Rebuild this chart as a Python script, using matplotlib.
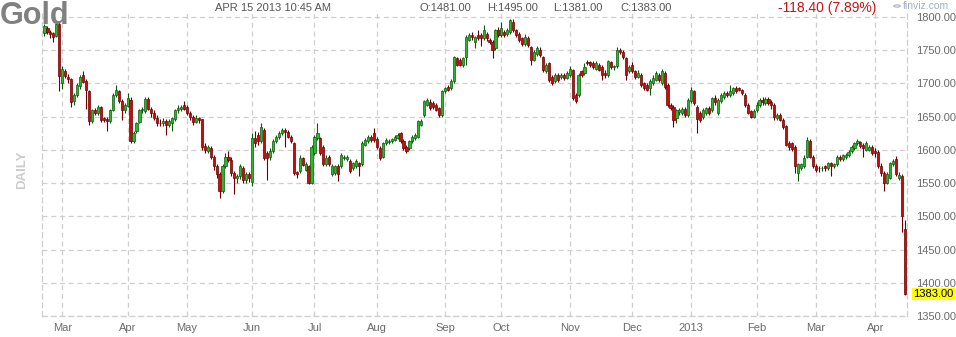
import matplotlib
matplotlib.use('Agg')
import matplotlib.pyplot as plt
import numpy as np
import pandas as pd

plt.rcParams['font.family'] = ['Liberation Sans', 'DejaVu Sans']

# ---------------- data ----------------
holidays = ['2012-04-06', '2012-05-28', '2012-07-04', '2012-09-03', '2012-11-22',
            '2012-12-25', '2013-01-01', '2013-03-29']
dates = pd.bdate_range('2012-02-22', '2013-04-15')
dates = dates[~dates.isin(pd.to_datetime(holidays))]

ohlc_rows = [
    # Feb 2012
    (1776, 1789, 1772, 1786), (1783, 1786, 1775, 1777), (1778, 1781, 1768, 1774), (1776, 1778, 1762, 1770),
    (1772, 1794, 1770, 1790), (1790, 1792, 1688, 1711),
    # Mar 2012
    (1700, 1726, 1692, 1722), (1718, 1722, 1708, 1711), (1710, 1714, 1700, 1706), (1706, 1708, 1665, 1672),
    (1673, 1686, 1668, 1683), (1683, 1700, 1680, 1698), (1696, 1712, 1692, 1710), (1712, 1718, 1700, 1702),
    (1703, 1706, 1662, 1690), (1688, 1690, 1638, 1643), (1643, 1662, 1640, 1660), (1660, 1663, 1652, 1655),
    (1655, 1668, 1652, 1665), (1664, 1666, 1642, 1645), (1648, 1650, 1642, 1645), (1647, 1650, 1628, 1643),
    (1643, 1662, 1640, 1660), (1660, 1685, 1658, 1683), (1682, 1697, 1680, 1690), (1688, 1690, 1670, 1673),
    (1673, 1676, 1645, 1660), (1660, 1670, 1656, 1668),
    # Apr 2012
    (1666, 1685, 1664, 1678), (1675, 1680, 1610, 1613), (1613, 1628, 1610, 1625), (1628, 1642, 1625, 1640),
    (1642, 1662, 1640, 1660), (1660, 1665, 1655, 1662), (1658, 1680, 1655, 1677), (1677, 1680, 1660, 1662),
    (1662, 1665, 1650, 1655), (1656, 1660, 1645, 1648), (1648, 1652, 1636, 1640), (1641, 1646, 1636, 1640),
    (1640, 1648, 1636, 1643), (1643, 1646, 1622, 1638), (1638, 1646, 1634, 1643), (1640, 1650, 1628, 1648),
    (1646, 1662, 1644, 1660), (1660, 1667, 1656, 1663), (1662, 1668, 1658, 1665), (1667, 1673, 1660, 1662),
    # May 2012
    (1664, 1667, 1652, 1655), (1655, 1658, 1645, 1650), (1650, 1652, 1638, 1642), (1642, 1652, 1640, 1648),
    (1648, 1650, 1640, 1645), (1646, 1647, 1600, 1604), (1606, 1610, 1595, 1600), (1598, 1608, 1595, 1605),
    (1603, 1606, 1586, 1590), (1590, 1592, 1570, 1575), (1575, 1578, 1558, 1563), (1563, 1566, 1528, 1538),
    (1538, 1578, 1535, 1575), (1575, 1595, 1572, 1590), (1590, 1598, 1582, 1585), (1585, 1590, 1560, 1565),
    (1565, 1568, 1533, 1558), (1558, 1563, 1550, 1560), (1560, 1578, 1556, 1575), (1573, 1575, 1550, 1555),
    (1555, 1566, 1550, 1563), (1563, 1566, 1552, 1558),
    # Jun 2012
    (1552, 1626, 1545, 1618), (1618, 1628, 1605, 1610), (1623, 1627, 1608, 1613), (1613, 1640, 1610, 1635),
    (1630, 1633, 1585, 1588), (1596, 1598, 1555, 1588), (1590, 1603, 1585, 1598), (1598, 1616, 1595, 1613),
    (1613, 1622, 1610, 1620), (1620, 1628, 1617, 1625), (1625, 1633, 1622, 1630), (1630, 1633, 1605, 1627),
    (1627, 1630, 1618, 1620), (1620, 1623, 1610, 1613), (1610, 1612, 1562, 1565), (1566, 1568, 1558, 1563),
    (1568, 1592, 1565, 1588), (1588, 1590, 1575, 1577), (1570, 1582, 1568, 1578), (1575, 1577, 1548, 1550),
    (1550, 1608, 1548, 1605),
    # Jul 2012
    (1595, 1622, 1592, 1620), (1618, 1640, 1615, 1625), (1618, 1620, 1592, 1595), (1605, 1607, 1575, 1578),
    (1578, 1592, 1575, 1588), (1590, 1592, 1575, 1578), (1563, 1578, 1560, 1575), (1565, 1577, 1562, 1575),
    (1575, 1578, 1553, 1563), (1575, 1595, 1572, 1593), (1588, 1593, 1585, 1590), (1586, 1593, 1583, 1590),
    (1583, 1586, 1565, 1568), (1573, 1582, 1570, 1580), (1576, 1586, 1573, 1583), (1580, 1582, 1560, 1576),
    (1578, 1613, 1576, 1610), (1608, 1618, 1606, 1615), (1613, 1622, 1610, 1620), (1620, 1622, 1612, 1615),
    (1625, 1633, 1612, 1615),
    # Aug 2012
    (1617, 1619, 1602, 1605), (1603, 1606, 1585, 1588), (1590, 1612, 1588, 1610), (1610, 1618, 1608, 1615),
    (1612, 1616, 1609, 1613), (1613, 1618, 1611, 1616), (1615, 1622, 1613, 1620), (1618, 1625, 1616, 1623),
    (1625, 1627, 1610, 1613), (1613, 1616, 1600, 1603), (1605, 1607, 1595, 1598), (1603, 1615, 1600, 1613),
    (1613, 1622, 1610, 1620), (1618, 1625, 1615, 1623), (1620, 1645, 1618, 1643), (1638, 1647, 1636, 1643),
    (1653, 1675, 1650, 1673), (1668, 1678, 1666, 1675), (1672, 1677, 1660, 1663), (1670, 1673, 1662, 1665),
    (1668, 1670, 1658, 1660), (1663, 1665, 1650, 1653), (1653, 1690, 1650, 1688),
    # Sep 2012
    (1688, 1695, 1685, 1693), (1695, 1698, 1688, 1690), (1693, 1706, 1690, 1703), (1703, 1742, 1700, 1740),
    (1738, 1740, 1726, 1728), (1735, 1738, 1726, 1728), (1728, 1740, 1725, 1738), (1740, 1773, 1728, 1770),
    (1766, 1776, 1764, 1773), (1773, 1778, 1766, 1770), (1763, 1772, 1753, 1770), (1773, 1780, 1766, 1769),
    (1773, 1776, 1756, 1768), (1768, 1788, 1765, 1780), (1775, 1778, 1764, 1768), (1765, 1768, 1760, 1763),
    (1763, 1766, 1738, 1750), (1753, 1782, 1750, 1780), (1780, 1785, 1770, 1773),
    # Oct 2012
    (1773, 1793, 1770, 1783), (1778, 1781, 1770, 1773), (1775, 1783, 1772, 1780), (1778, 1797, 1775, 1795),
    (1793, 1797, 1777, 1780), (1780, 1782, 1770, 1773), (1775, 1777, 1762, 1765), (1768, 1770, 1757, 1760),
    (1760, 1775, 1757, 1770), (1768, 1771, 1755, 1758), (1755, 1757, 1728, 1735), (1735, 1750, 1733, 1748),
    (1745, 1756, 1742, 1753), (1750, 1755, 1740, 1743), (1740, 1742, 1717, 1720), (1718, 1730, 1715, 1728),
    (1730, 1732, 1702, 1705), (1710, 1712, 1697, 1700), (1703, 1716, 1700, 1713), (1713, 1716, 1702, 1705),
    (1709, 1715, 1706, 1713), (1713, 1716, 1705, 1708), (1708, 1718, 1706, 1715),
    # Nov 2012
    (1713, 1726, 1710, 1722), (1720, 1722, 1675, 1678), (1683, 1686, 1670, 1673), (1683, 1716, 1680, 1713),
    (1718, 1720, 1710, 1713), (1715, 1730, 1713, 1725), (1732, 1735, 1728, 1730), (1732, 1734, 1725, 1728),
    (1730, 1733, 1722, 1725), (1722, 1733, 1720, 1730), (1728, 1731, 1718, 1720), (1725, 1728, 1705, 1713),
    (1716, 1720, 1708, 1713), (1713, 1736, 1710, 1733), (1732, 1734, 1722, 1725), (1724, 1728, 1720, 1726),
    (1726, 1755, 1723, 1750), (1751, 1754, 1745, 1748), (1748, 1750, 1737, 1740), (1738, 1740, 1705, 1713),
    (1718, 1728, 1715, 1725),
    # Dec 2012
    (1728, 1732, 1715, 1718), (1718, 1720, 1707, 1710), (1710, 1720, 1708, 1716), (1713, 1716, 1695, 1698),
    (1700, 1702, 1690, 1693), (1698, 1700, 1688, 1690), (1693, 1706, 1683, 1703), (1700, 1712, 1698, 1708),
    (1705, 1718, 1703, 1715), (1713, 1716, 1702, 1705), (1700, 1722, 1698, 1718), (1716, 1718, 1692, 1695),
    (1698, 1700, 1665, 1668), (1668, 1670, 1660, 1663), (1665, 1668, 1635, 1645), (1648, 1662, 1640, 1660),
    (1657, 1663, 1652, 1660), (1656, 1665, 1653, 1662), (1662, 1664, 1650, 1653), (1653, 1678, 1650, 1675),
    # Jan 2013
    (1673, 1694, 1670, 1690), (1688, 1690, 1668, 1670), (1665, 1668, 1625, 1647), (1655, 1658, 1642, 1645),
    (1650, 1663, 1647, 1660), (1655, 1665, 1652, 1663), (1663, 1666, 1652, 1656), (1660, 1680, 1657, 1678),
    (1678, 1682, 1668, 1672), (1655, 1678, 1652, 1675), (1673, 1685, 1670, 1683), (1680, 1688, 1677, 1686),
    (1685, 1688, 1680, 1682), (1683, 1698, 1680, 1688), (1685, 1695, 1682, 1693), (1693, 1696, 1686, 1688),
    (1693, 1695, 1688, 1690), (1690, 1692, 1683, 1686), (1683, 1686, 1665, 1668), (1668, 1670, 1654, 1656),
    (1658, 1660, 1648, 1650), (1650, 1662, 1648, 1658),
    # Feb 2013
    (1660, 1672, 1657, 1668), (1668, 1678, 1665, 1675), (1675, 1680, 1668, 1672), (1670, 1680, 1668, 1677),
    (1677, 1680, 1668, 1670), (1672, 1675, 1662, 1668), (1668, 1670, 1645, 1650), (1648, 1656, 1645, 1653),
    (1653, 1656, 1643, 1645), (1645, 1648, 1632, 1635), (1636, 1638, 1606, 1608), (1610, 1614, 1600, 1605),
    (1610, 1612, 1598, 1602), (1605, 1607, 1565, 1575), (1565, 1580, 1553, 1578), (1573, 1580, 1570, 1578),
    (1575, 1592, 1572, 1588), (1590, 1620, 1588, 1615), (1613, 1616, 1588, 1590), (1590, 1592, 1572, 1575),
    # Mar 2013
    (1576, 1578, 1566, 1570), (1573, 1576, 1566, 1572), (1572, 1575, 1568, 1573), (1575, 1577, 1568, 1572),
    (1573, 1582, 1570, 1580), (1580, 1582, 1560, 1575), (1575, 1581, 1572, 1578), (1578, 1593, 1576, 1590),
    (1590, 1592, 1584, 1586), (1586, 1594, 1584, 1592), (1590, 1595, 1587, 1593), (1593, 1600, 1590, 1597),
    (1598, 1607, 1595, 1605), (1603, 1612, 1600, 1610), (1610, 1616, 1607, 1613), (1612, 1614, 1603, 1606),
    (1608, 1611, 1590, 1603), (1600, 1613, 1598, 1610), (1600, 1607, 1598, 1605), (1605, 1608, 1593, 1596),
    # Apr 2013
    (1598, 1603, 1590, 1595), (1597, 1600, 1573, 1576), (1576, 1580, 1560, 1565), (1565, 1568, 1538, 1550),
    (1550, 1566, 1548, 1563), (1558, 1582, 1556, 1580), (1578, 1586, 1575, 1584), (1586, 1591, 1560, 1563),
    (1558, 1566, 1555, 1562), (1560, 1563, 1476, 1500), (1481, 1495, 1381, 1383),
]
opens = np.array([r[0] for r in ohlc_rows], float)
highs = np.array([r[1] for r in ohlc_rows], float)
lows = np.array([r[2] for r in ohlc_rows], float)
closes = np.array([r[3] for r in ohlc_rows], float)

y_ticks = [1350, 1400, 1450, 1500, 1550, 1600, 1650, 1700, 1750, 1800]
last_price = 1383.00
header_date = 'APR 15 2013 10:45 AM'
header_o, header_h, header_l, header_c = 1481.00, 1495.00, 1381.00, 1383.00
change_text = '-118.40 (7.89%)'

# ---------------- figure ----------------
W, H = 956, 337
fig = plt.figure(figsize=(W / 100, H / 100), dpi=100)
ax = fig.add_axes([42 / W, 21 / H, 865 / W, 306 / H])

n = len(closes)
x = np.arange(n)
ax.set_xlim(-0.84, n - 0.3)
ax.set_ylim(1350, 1810.5)

grid_c = '#cfcfcf'
dash = (0, (4, 3))
for yv in y_ticks:
    ax.axhline(yv, color=grid_c, lw=0.9, ls=dash, zorder=0)

months = dates.to_period('M')
first_idx = [i for i in range(1, n) if months[i] != months[i - 1]]
labels = []
for i in first_idx:
    d = dates[i]
    labels.append(str(d.year) if d.month == 1 else d.strftime('%b'))
for i in first_idx:
    ax.axvline(i, color=grid_c, lw=0.9, ls=dash, zorder=0)

for s in ['left', 'right', 'bottom']:
    ax.spines[s].set_color(grid_c)
    ax.spines[s].set_linestyle(dash)
    ax.spines[s].set_linewidth(0.9)
ax.spines['top'].set_visible(False)

up = closes >= opens
fill = np.where(up, '#2fb52f', '#c40d0d')
edge = np.where(up, '#0b5a0b', '#6e0000')
ax.vlines(x, lows, highs, colors=edge, lw=0.8, zorder=2)
body_low = np.minimum(opens, closes)
body_h = np.maximum(np.abs(closes - opens), 0.8)
ax.bar(x, body_h, bottom=body_low, width=0.72, color=fill, edgecolor=edge,
       linewidth=0.5, zorder=3)

ax.set_xticks(first_idx)
ax.set_xticklabels(labels)
ax.set_yticks(y_ticks)
ax.set_yticklabels(['%.2f' % v for v in y_ticks])
ax.yaxis.tick_right()
ax.tick_params(axis='both', length=0, colors='#6a6a6a', labelsize=8)
ax.tick_params(axis='y', pad=6.5)
ax.tick_params(axis='x', pad=5)

ax.text(1 + 6 / 865, last_price, '%.2f' % last_price, transform=ax.get_yaxis_transform(),
        va='center', ha='left', fontsize=8, color='black', clip_on=False, zorder=5,
        bbox=dict(boxstyle='square,pad=0.12', fc='#ffff00', ec='none'))

def ftext(px, py, s, **kw):
    fig.text(px / W, 1 - py / H, s, **kw)

ftext(0, 16, 'Gold', fontsize=22, fontweight='bold', color='#808080', va='center', ha='left')
ftext(22, 170, 'DAILY', fontsize=9.5, fontweight='bold', color='#cccccc', rotation=90,
      va='center', ha='center')
ftext(215, 8, header_date, fontsize=8, color='#555555', va='center', ha='left')
ftext(420, 8, 'O:%.2f' % header_o, fontsize=8, color='#555555', va='center', ha='left')
ftext(487, 8, 'H:%.2f' % header_h, fontsize=8, color='#555555', va='center', ha='left')
ftext(553, 8, 'L:%.2f' % header_l, fontsize=8, color='#555555', va='center', ha='left')
ftext(620, 8, 'C:%.2f' % header_c, fontsize=8, color='#555555', va='center', ha='left')
ftext(778, 8, change_text, fontsize=10, color='#cc1111', va='center', ha='left')
ftext(903, 6, 'finviz.com', fontsize=7.5, color='#9fb3c0', va='center', ha='left')
fig.patches.append(plt.Circle((897 / W, 1 - 6 / H), 3.2 / W, transform=fig.transFigure,
                              fill=False, ec='#9fb3c0', lw=0.8))

fig.savefig('out.png', dpi=100)
